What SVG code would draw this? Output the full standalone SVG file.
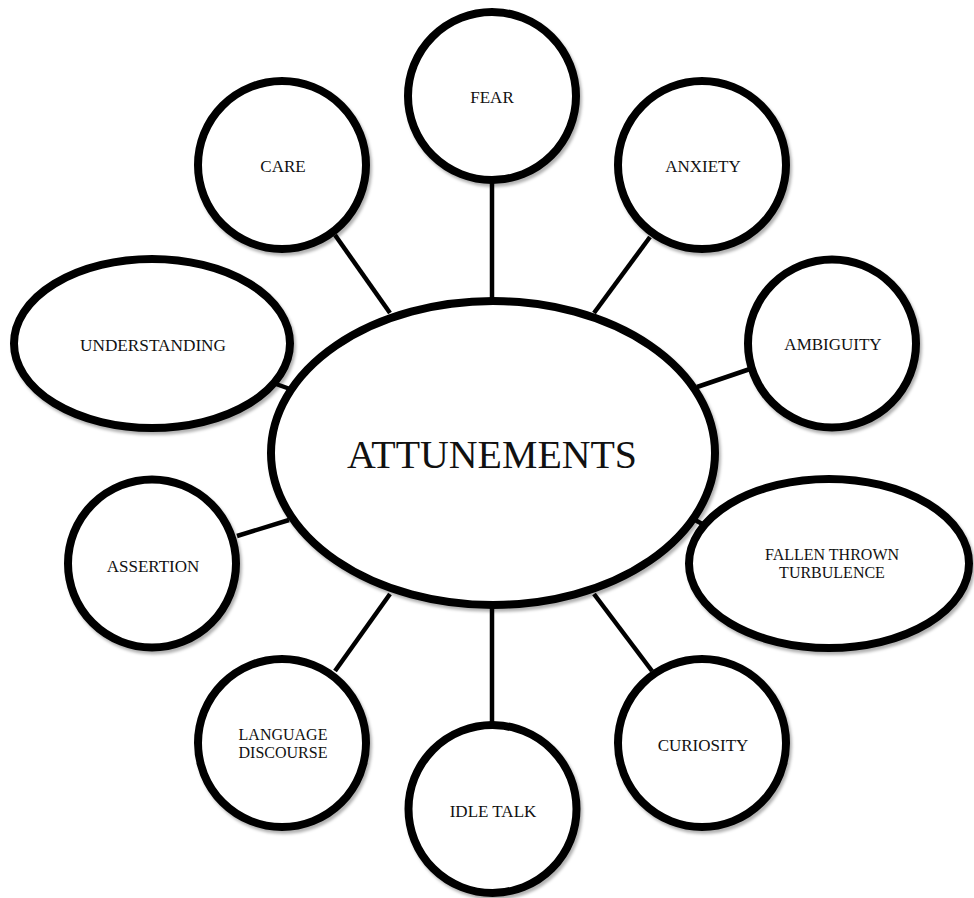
<svg xmlns="http://www.w3.org/2000/svg" width="974" height="898" viewBox="0 0 974 898">
<style>
.node{fill:#fff;stroke:#000;stroke-width:8;filter:url(#sh)}
.lbl{font-family:"Liberation Serif","Times New Roman",serif;font-size:17px;fill:#111;text-anchor:middle}
.two{font-size:16px}
.big{font-family:"Liberation Serif","Times New Roman",serif;font-size:40px;fill:#111;text-anchor:middle}
.edge{stroke:#000;stroke-width:4.5;fill:none}
</style>
<defs>
<filter id="sh" x="-10%" y="-10%" width="125%" height="125%">
<feDropShadow dx="2" dy="3" stdDeviation="1.5" flood-color="#000" flood-opacity="0.3"/>
</filter>
</defs>
<rect width="974" height="898" fill="#fff"/>
<g id="connectors">
<line class="edge" x1="335" y1="235" x2="390" y2="313"/>
<line class="edge" x1="276" y1="384" x2="290" y2="389"/>
<line class="edge" x1="492" y1="182" x2="492" y2="299"/>
<line class="edge" x1="650" y1="237" x2="594" y2="313"/>
<line class="edge" x1="750" y1="369" x2="697" y2="387"/>
<line class="edge" x1="237" y1="536" x2="289" y2="520"/>
<line class="edge" x1="335" y1="671" x2="390" y2="594"/>
<line class="edge" x1="492" y1="607" x2="492" y2="725"/>
<line class="edge" x1="594" y1="594" x2="652" y2="671"/>
<line class="edge" x1="695" y1="520" x2="706" y2="526"/>
</g>
<g id="attunements">
<ellipse class="node" cx="493" cy="453" rx="222" ry="152"/>
<text class="big" x="492" y="468" textLength="290" lengthAdjust="spacingAndGlyphs">ATTUNEMENTS</text>
</g>
<g id="fear">
<circle class="node" cx="492" cy="96" r="84"/>
<text class="lbl" x="492" y="103">FEAR</text>
</g>
<g id="care">
<circle class="node" cx="282" cy="165" r="84"/>
<text class="lbl" x="283" y="172">CARE</text>
</g>
<g id="anxiety">
<circle class="node" cx="702" cy="165" r="84"/>
<text class="lbl" x="703" y="172">ANXIETY</text>
</g>
<g id="understanding">
<ellipse class="node" cx="152" cy="343.5" rx="138" ry="84.5"/>
<text class="lbl" x="153" y="351" textLength="146" lengthAdjust="spacingAndGlyphs">UNDERSTANDING</text>
</g>
<g id="ambiguity">
<circle class="node" cx="832" cy="343.5" r="84"/>
<text class="lbl" x="833" y="350">AMBIGUITY</text>
</g>
<g id="assertion">
<circle class="node" cx="152" cy="563.5" r="84"/>
<text class="lbl" x="153" y="572">ASSERTION</text>
</g>
<g id="fallen-thrown-turbulence">
<ellipse class="node" cx="829" cy="563.5" rx="140" ry="84.5"/>
<text class="lbl two" x="832" y="560">FALLEN THROWN</text>
<text class="lbl two" x="832" y="578">TURBULENCE</text>
</g>
<g id="language-discourse">
<circle class="node" cx="282" cy="743" r="84"/>
<text class="lbl two" x="283" y="740">LANGUAGE</text>
<text class="lbl two" x="283" y="758">DISCOURSE</text>
</g>
<g id="idle-talk">
<circle class="node" cx="492.5" cy="809" r="84"/>
<text class="lbl" x="493" y="817">IDLE TALK</text>
</g>
<g id="curiosity">
<circle class="node" cx="702" cy="743" r="84"/>
<text class="lbl" x="703" y="751">CURIOSITY</text>
</g>
</svg>
